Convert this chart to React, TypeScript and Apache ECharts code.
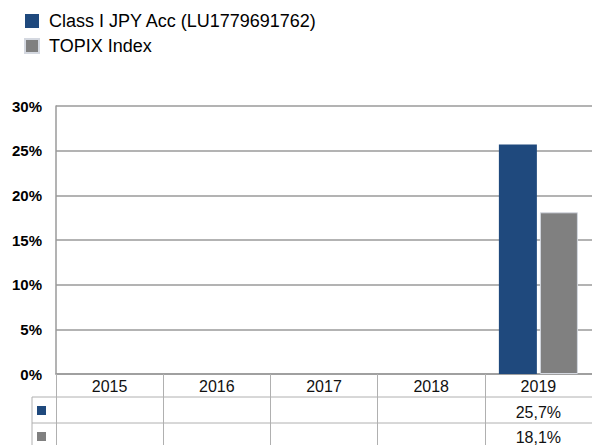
import React, { useEffect, useRef } from "react";
import * as echarts from "echarts";

// Calendar-year performance, fund vs. benchmark
const years = ["2015", "2016", "2017", "2018", "2019"];
const fundReturns: (number | null)[] = [null, null, null, null, 25.7];
const indexReturns: (number | null)[] = [null, null, null, null, 18.1];
const seriesNames = ["Class I JPY Acc (LU1779691762)", "TOPIX Index"];
const seriesColors = ["#1f497d", "#808080"];

const FONT = "'Liberation Sans', Arial, sans-serif";
const GRID_COLOR = "#9a9a9a";
const TABLE_COLOR = "#b0b0b0";

const fmt = (v: number | null) => (v == null ? "" : v.toFixed(1).replace(".", ",") + "%");

export default function App() {
  const ref = useRef<HTMLDivElement>(null);

  useEffect(() => {
    if (!ref.current) return;
    const chart = echarts.init(ref.current, undefined, { renderer: "svg" });

    const gridLeft = 56;
    const gridTop = 106;
    const gridBottom = 71;
    const H = 445;
    const W = 592;
    const axisY = H - gridBottom; // 374
    const row1 = axisY + 23; // 397
    const row2 = axisY + 49; // 423

    const rowAxis = (offset: number, values: (number | null)[], margin: number) => ({
      type: "category" as const,
      data: years,
      position: "bottom" as const,
      offset,
      axisLine: { show: false },
      axisTick: { show: false },
      splitLine: { show: false },
      axisLabel: {
        interval: 0,
        margin,
        fontFamily: FONT,
        fontSize: 16,
        color: "#111",
        formatter: (_: string, i: number) => fmt(values[i]),
      },
    });

    chart.setOption({
      animation: false,
      textStyle: { fontFamily: FONT },
      legend: {
        orient: "vertical",
        left: 19,
        top: 7,
        itemWidth: 14,
        itemHeight: 14,
        itemGap: 7,
        icon: "rect",
        selectedMode: false,
        data: seriesNames,
        textStyle: {
          fontFamily: FONT,
          fontSize: 18,
          color: "#000",
          padding: [0, 0, 0, 5],
        },
      },
      grid: {
        left: gridLeft,
        right: -2,
        top: gridTop,
        bottom: gridBottom,
        containLabel: false,
      },
      xAxis: [
        {
          type: "category",
          data: years,
          position: "bottom",
          axisLine: { show: true, lineStyle: { color: GRID_COLOR, width: 1.5 } },
          axisTick: {
            show: true,
            length: gridBottom,
            lineStyle: { color: TABLE_COLOR, width: 1 },
          },
          axisLabel: {
            interval: 0,
            margin: 4,
            fontFamily: FONT,
            fontSize: 16,
            color: "#111",
          },
        },
        rowAxis(23, fundReturns, 7),
        rowAxis(49, indexReturns, 6),
      ],
      yAxis: {
        type: "value",
        min: 0,
        max: 30,
        interval: 5,
        axisLine: { show: true, lineStyle: { color: GRID_COLOR, width: 1.5 } },
        axisTick: { show: false },
        splitLine: { show: true, lineStyle: { color: GRID_COLOR, width: 1.5 } },
        axisLabel: {
          margin: 14,
          fontFamily: FONT,
          fontSize: 15,
          fontWeight: "bold",
          color: "#000",
          formatter: "{value}%",
        },
      },
      series: [
        {
          name: seriesNames[0],
          type: "bar",
          xAxisIndex: 0,
          data: fundReturns,
          barWidth: 38,
          barGap: "8%",
          itemStyle: { color: seriesColors[0] },
        },
        {
          name: seriesNames[1],
          type: "bar",
          xAxisIndex: 0,
          data: indexReturns,
          barWidth: 38,
          itemStyle: { color: seriesColors[1], borderColor: "#d4d8e0", borderWidth: 1 },
        },
      ],
      graphic: [
        // data table rule lines
        {
          type: "line",
          shape: { x1: 32, y1: row1, x2: W, y2: row1 },
          style: { stroke: TABLE_COLOR, lineWidth: 1 },
          silent: true,
        },
        {
          type: "line",
          shape: { x1: 32, y1: row2, x2: W, y2: row2 },
          style: { stroke: TABLE_COLOR, lineWidth: 1 },
          silent: true,
        },
        {
          type: "line",
          shape: { x1: 32, y1: row1, x2: 32, y2: H },
          style: { stroke: TABLE_COLOR, lineWidth: 1 },
          silent: true,
        },
        // row keys
        {
          type: "rect",
          shape: { x: 37, y: row1 + 9, width: 9, height: 9 },
          style: { fill: seriesColors[0] },
          silent: true,
        },
        {
          type: "rect",
          shape: { x: 37, y: row2 + 9, width: 9, height: 9 },
          style: { fill: seriesColors[1] },
          silent: true,
        },
      ],
    });

    return () => chart.dispose();
  }, []);

  return (
    <div
      ref={ref}
      style={{ position: "fixed", left: 0, top: 0, width: 592, height: 445, background: "#fff" }}
    />
  );
}
